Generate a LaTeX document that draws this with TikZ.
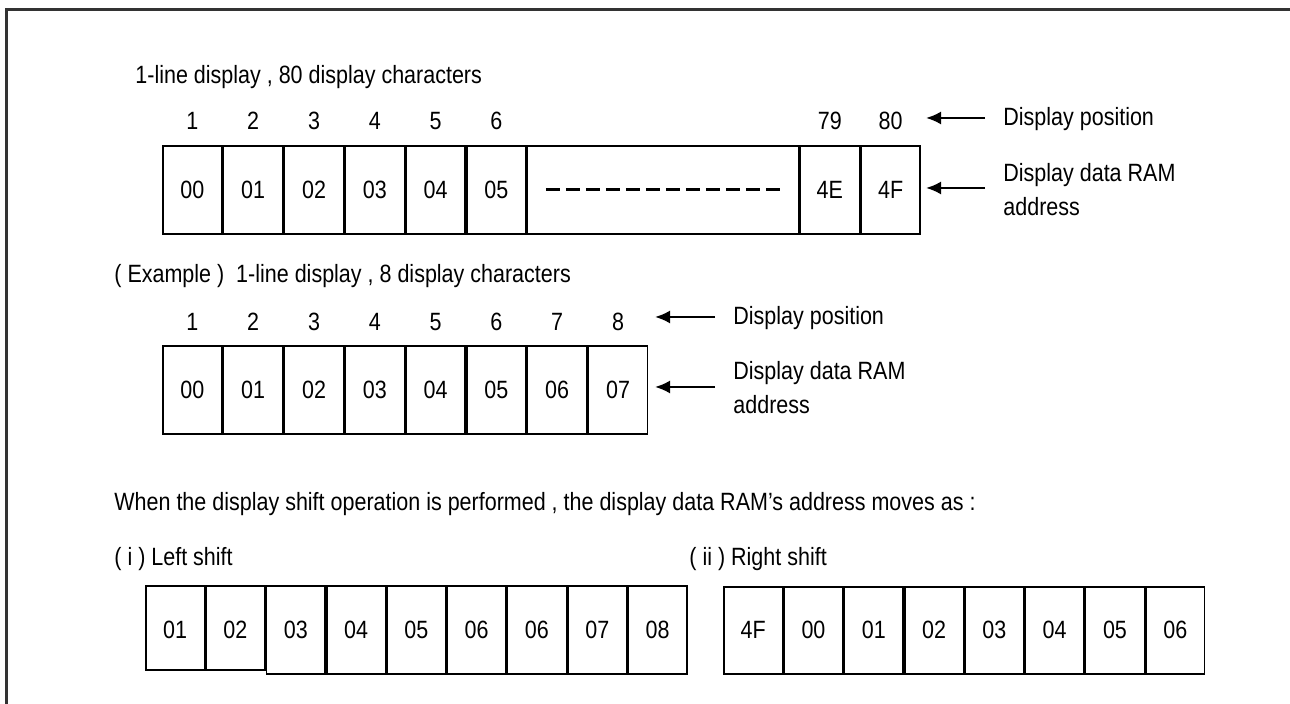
\documentclass[tikz,border=0pt]{standalone}
\usepackage{fontspec}
\setmainfont{Liberation Sans}[FakeStretch=0.86]
\usetikzlibrary{arrows.meta, positioning}

\begin{document}
\begin{tikzpicture}[
    x = 0.5pt, y = -0.5pt,
    >=Latex,
    font = \fontsize{12.5}{17.25}\selectfont,
    cell/.style={
      draw,
      line width = 0.8pt,
      minimum width = 29.6pt,
      minimum height = 44pt,
      inner sep = 0pt,
      anchor = north west,
    },
    shcell/.style={
      cell,
      minimum width = 29.35pt,
      minimum height = 43.5pt,
    },
    txt/.style={
      inner sep = 0pt,
      text height = 0.72em,
      text depth = 0pt,
    },
    lbl/.style={
      inner sep = 0pt,
      align = left,
      anchor = base west,
    },
    arr/.style={
      -{Latex[length=7.5pt, width=6.5pt]},
      line width = 1.1pt,
      shorten <= 9pt,
    },
  ]
  \useasboundingbox (0,0) rectangle (1290,704);
  \draw[line width=1.5pt, black!80] (6,704) -- (6,10) -- (1290,10);

  % 1-line display, 80 characters
  \node[txt, anchor=west] (title1) at (135,76) {1-line display , 80 display characters};
  \node[cell] (a1) at (162,145) {00};
  \foreach \i/\t [remember=\i as \j (initially 1)] in {2/01,3/02,4/03,5/04,6/05}
    \node[cell] (a\i) at (a\j.north east) {\t};
  \node[cell, minimum width=135.5pt] (adots) at (a6.north east) {};
  \node[cell] (a79) at (adots.north east) {4E};
  \node[cell] (a80) at (a79.north east) {4F};
  \draw[line width=1.3pt, dash pattern=on 7pt off 3pt]
    ([xshift=9.5pt]adots.west) -- ([xshift=-7.5pt]adots.east);
  \foreach \i in {1,...,6}
    \node[txt, above=7.5pt of a\i] (n\i) {\i};
  \node[txt, above=7.5pt of a79] (n79) {79};
  \node[txt, above=7.5pt of a80] (n80) {80};

  \node[txt, anchor=west] (pos1) at (1003,118) {Display position};
  \node[lbl] (ram1) at (1003,216) {Display data RAM\\address};
  \coordinate (postip1) at (926,118);
  \coordinate (ramtip1) at (926,188);
  \draw[arr] (pos1.west) -- (postip1);
  \draw[arr] (ram1.west |- ramtip1) -- (ramtip1);

  % example: 8 characters
  \node[txt, anchor=west] (title2) at (114,275) {( Example )\ \ 1-line display , 8 display characters};
  \node[cell] (b1) at (162,345) {00};
  \foreach \i/\t [remember=\i as \j (initially 1)] in {2/01,3/02,4/03,5/04,6/05,7/06,8/07}
    \node[cell] (b\i) at (b\j.north east) {\t};
  \foreach \i in {1,...,8}
    \node[txt, above=7pt of b\i] (m\i) {\i};

  \node[txt, anchor=west] (pos2) at (733,317) {Display position};
  \node[lbl] (ram2) at (733,414) {Display data RAM\\address};
  \coordinate (postip2) at (655,317);
  \coordinate (ramtip2) at (655,387);
  \draw[arr] (pos2.west) -- (postip2);
  \draw[arr] (ram2.west |- ramtip2) -- (ramtip2);

  % shift operation
  \node[txt, anchor=west] (note) at (114,503) {When the display shift operation is performed , the display data RAM's address moves as :};
  \node[txt, anchor=west] (lsh) at (114,558) {( i ) Left shift};
  \node[txt, anchor=west] (rsh) at (689,558) {( ii ) Right shift};

  \node[shcell, minimum height=42pt, text height=10.8pt, text depth=0pt] (l1) at (145,585) {01};
  \node[shcell, minimum height=42pt, text height=10.8pt, text depth=0pt] (l2) at (l1.north east) {02};
  \foreach \i/\t [remember=\i as \j (initially 2)] in {3/03,4/04,5/05,6/06,7/06,8/07,9/08}
    \node[shcell, minimum height=44pt] (l\i) at (l\j.north east) {\t};

  \node[shcell] (r1) at (723,586) {4F};
  \foreach \i/\t [remember=\i as \j (initially 1)] in {2/00,3/01,4/02,5/03,6/04,7/05,8/06}
    \node[shcell] (r\i) at (r\j.north east) {\t};
\end{tikzpicture}
\end{document}
